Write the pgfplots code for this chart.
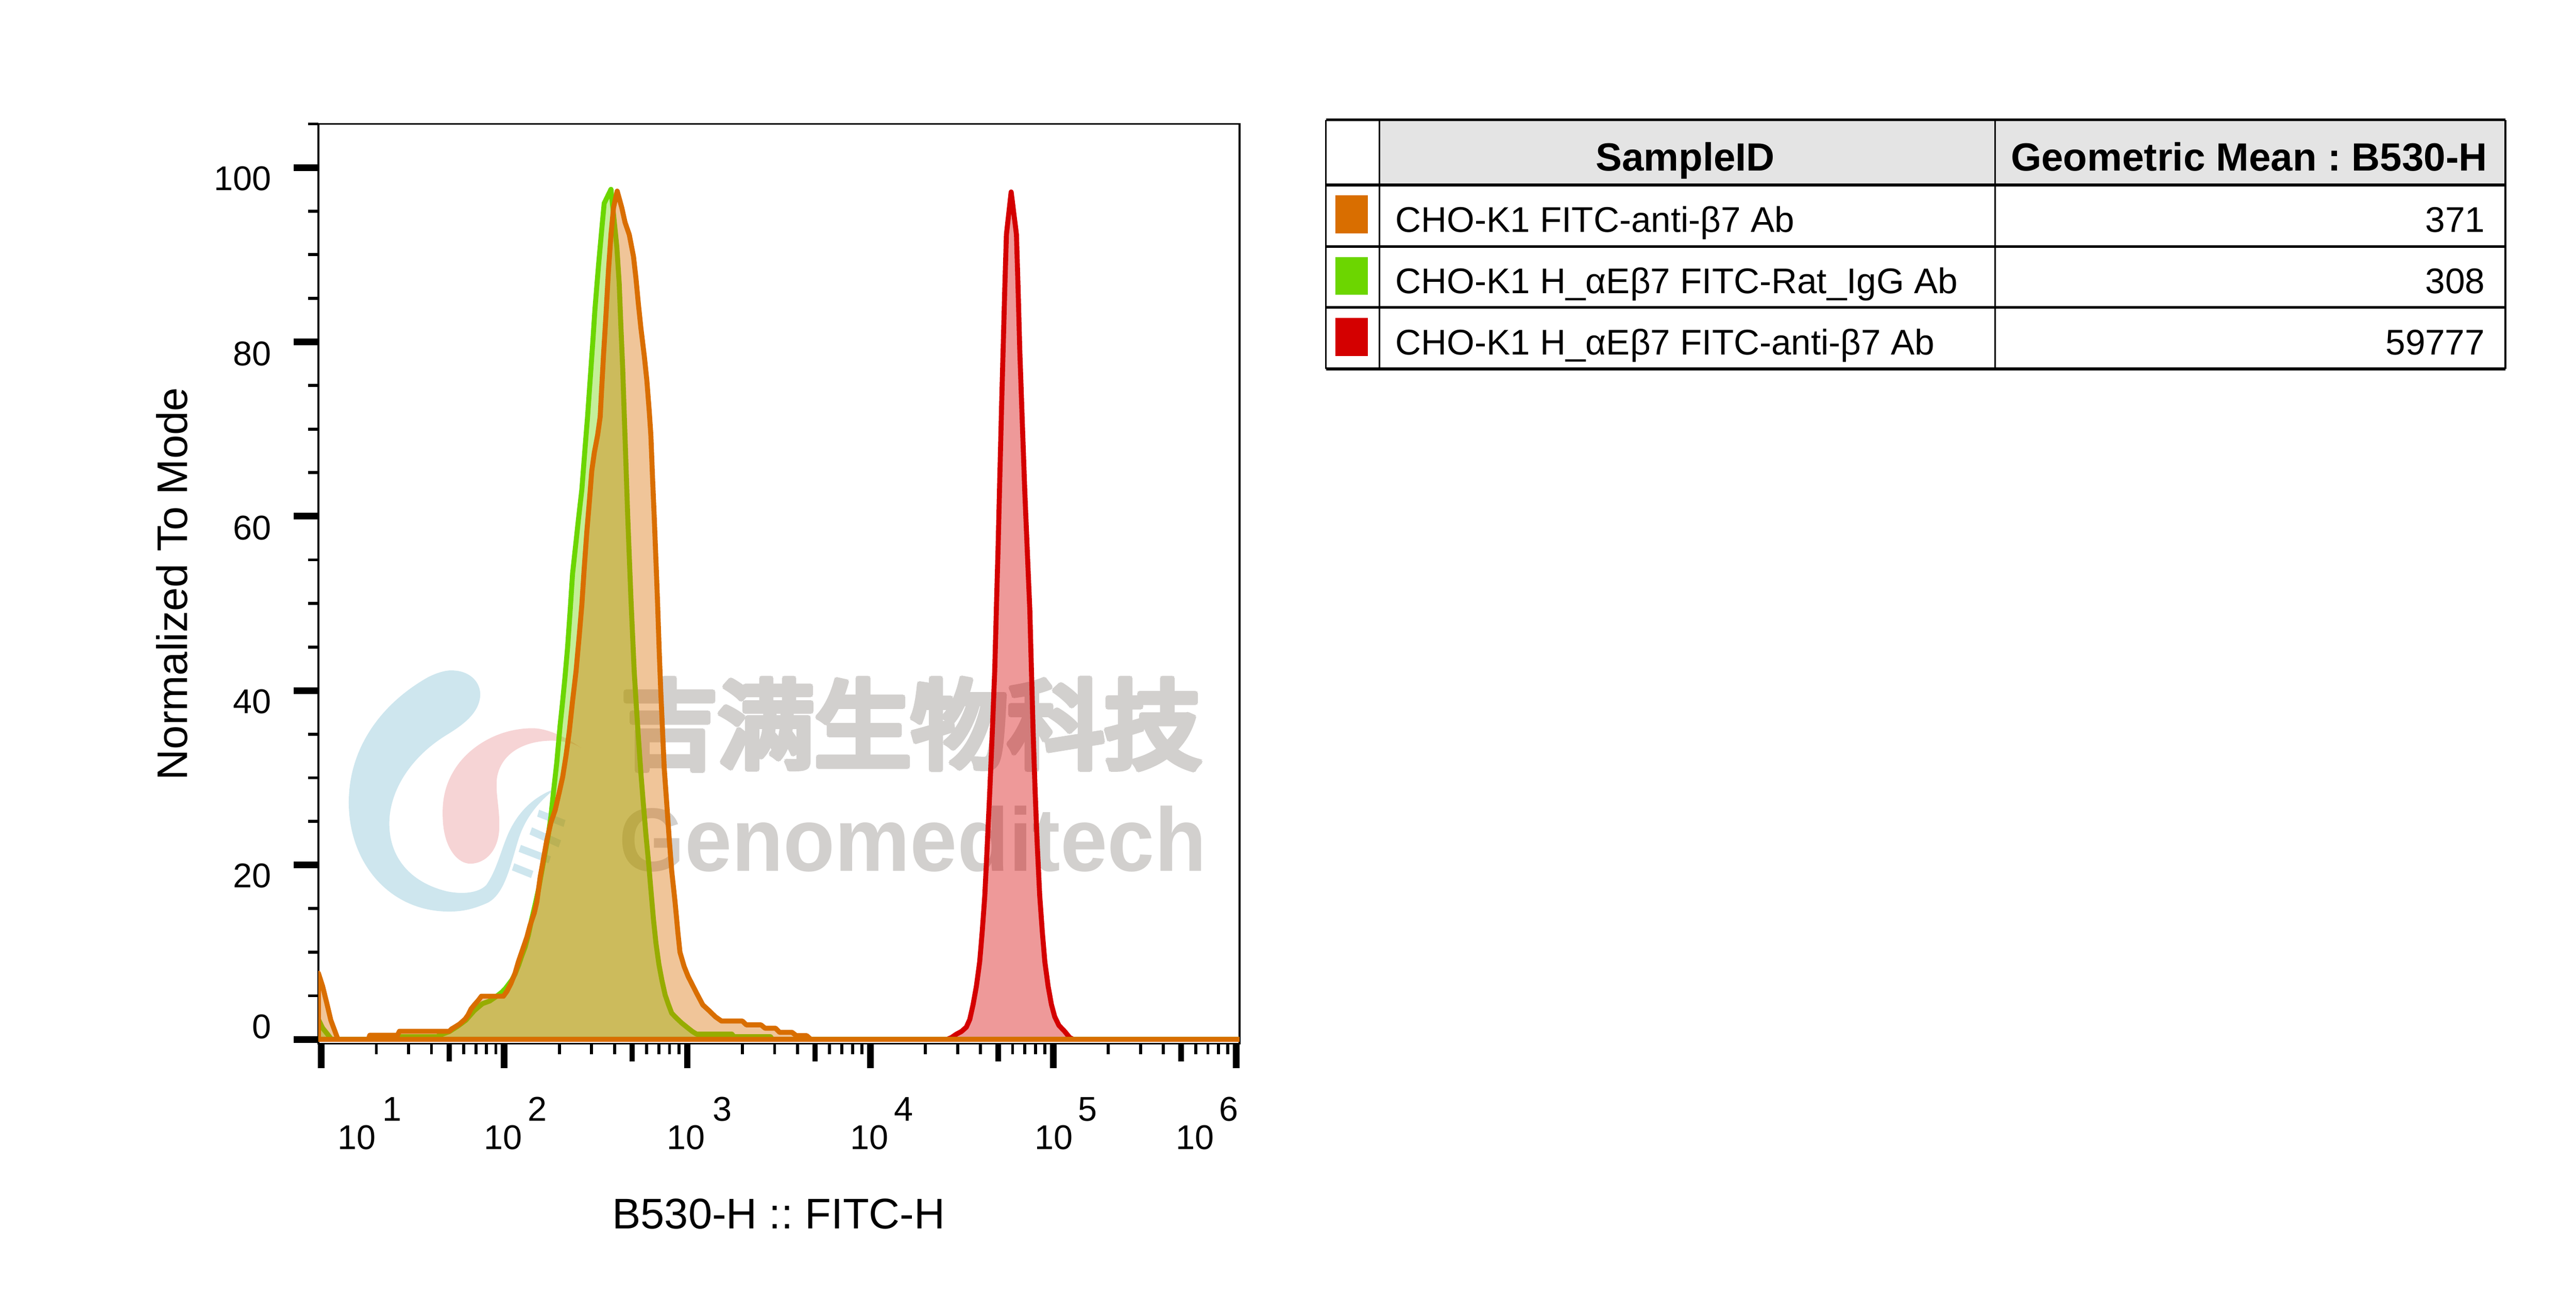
\documentclass[border=0pt]{standalone}
\usepackage{fontspec}
\setmainfont{Liberation Sans}
\newfontfamily\cjk{Noto Sans CJK SC}[FakeBold=3.5]
\usepackage{graphicx}
\usepackage{pgfplots}
\pgfplotsset{compat=1.18}
\definecolor{cOrange}{RGB}{217,110,0}
\definecolor{cGreen}{RGB}{108,214,0}
\definecolor{cRed}{RGB}{212,0,0}
\definecolor{wm}{RGB}{210,208,206}
\definecolor{logoBlue}{RGB}{206,230,238}
\definecolor{logoPink}{RGB}{246,212,213}
\definecolor{hdr}{RGB}{228,228,228}
\frenchspacing
\begin{document}
\begin{tikzpicture}
\useasboundingbox (0,0) rectangle (773.1pt,389.7pt);
% ---------- watermark (under the histograms) ----------
\begin{scope}[x=0.15pt,y=-0.15pt,shift={(0,-2598)}]
 \begin{scope}[shift={(650,1280)},scale=0.3827]
  \fill[logoBlue] (650,160)
   .. controls (760,155) and (818,225) .. (812,295)
   .. controls (805,380) and (730,440) .. (640,495)
   .. controls (450,610) and (335,790) .. (337,965)
   .. controls (340,1160) and (470,1275) .. (640,1315)
   .. controls (740,1335) and (815,1315) .. (845,1280)
   .. controls (900,1200) and (920,1100) .. (960,1010)
   .. controls (1010,900) and (1090,820) .. (1205,778)
   .. controls (1100,860) and (1040,950) .. (1010,1050)
   .. controls (970,1180) and (940,1330) .. (850,1375)
   .. controls (760,1415) and (700,1422) .. (630,1420)
   .. controls (330,1410) and (125,1160) .. (125,850)
   .. controls (125,560) and (300,330) .. (540,195)
   .. controls (580,175) and (620,162) .. (650,160) -- cycle;
  \fill[logoPink] (1340,565)
   .. controls (1250,500) and (1150,460) .. (1080,462)
   .. controls (900,465) and (760,560) .. (690,660)
   .. controls (620,760) and (610,860) .. (618,960)
   .. controls (630,1100) and (700,1170) .. (760,1170)
   .. controls (840,1170) and (910,1100) .. (912,980)
   .. controls (915,880) and (890,800) .. (900,720)
   .. controls (920,600) and (1030,530) .. (1180,527)
   .. controls (1260,527) and (1310,545) .. (1340,565) -- cycle;
  \fill[logoBlue] (1120,888) -- (1258,942) -- (1248,978) -- (1110,924) -- cycle;
  \fill[logoBlue] (1083,980) -- (1235,1048) -- (1222,1085) -- (1070,1017) -- cycle;
  \fill[logoBlue] (1025,1072) -- (1182,1132) -- (1170,1168) -- (1013,1108) -- cycle;
  \fill[logoBlue] (990,1168) -- (1090,1208) -- (1078,1245) -- (978,1205) -- cycle;
 \end{scope}
 \foreach \dx/\dy in {0/0,-4/0,4/0,0/-4,0/4,-3/-3,3/-3,-3/3,3/3}{
  \node[text=wm, inner sep=0, font=\cjk\fontsize{29}{30}\selectfont] at (1823+\dx,1449+\dy) {吉满生物科技};
 }
 \node[text=wm, inner sep=0, font=\bfseries\fontsize{27}{28}\selectfont] at (1826,1678) {\scalebox{0.94}[1]{Genomeditech}};
\end{scope}
% ---------- histogram ----------
\begin{axis}[
  at={(95.55pt,76.5pt)}, anchor=south west, scale only axis,
  width=276.45pt, height=276pt,
  xmin=0.984, xmax=6.018, ymin=-0.5, ymax=105,
  xtick={1,2,3,4,5,6},
  minor xtick={1.301,1.477,1.602,1.778,1.845,1.903,1.954,
               2.301,2.477,2.602,2.778,2.845,2.903,2.954,
               3.301,3.477,3.602,3.778,3.845,3.903,3.954,
               4.301,4.477,4.602,4.778,4.845,4.903,4.954,
               5.301,5.477,5.602,5.778,5.845,5.903,5.954},
  extra x ticks={1.699,2.699,3.699,4.699,5.699},
  extra x tick labels={},
  extra x tick style={major tick length=5.25pt, major tick style={line width=1.6pt}},
  ytick={0,20,40,60,80,100},
  minor ytick={5,10,15,25,30,35,45,50,55,65,70,75,85,90,95,105},
  xticklabels={}, yticklabels={},
  tick align=outside, tick pos=left,
  major tick length=7.4pt, minor tick length=3.1pt,
  tick style={black},
  major tick style={line width=2pt},
  minor tick style={line width=0.9pt},
  axis line style={line width=0.5pt},
]
\addplot[draw=cRed, line width=1.5pt, line join=round, fill=cRed, fill opacity=0.4] coordinates {
(0.984,0) (4.42,0) (4.443,0.2) (4.471,0.6) (4.498,0.9) (4.525,1.4) (4.544,2.3) (4.562,4.0)
(4.580,6.1) (4.598,8.9) (4.612,12.4) (4.626,16.5) (4.639,22.1) (4.653,28.4) (4.667,35.3)
(4.680,42.2) (4.689,49.2) (4.699,56.8) (4.708,64.5) (4.717,72.1) (4.726,79.1) (4.735,86.0)
(4.744,92.3) (4.770,97.2) (4.799,92.3) (4.808,86.0) (4.817,79.1) (4.831,70.7) (4.844,63.1)
(4.858,56.1) (4.872,49.2) (4.881,42.2) (4.890,35.3) (4.901,28.4) (4.913,22.1) (4.926,16.5)
(4.940,12.4) (4.954,8.9) (4.972,6.1) (4.990,4.0) (5.008,2.6) (5.031,1.6) (5.063,0.9)
(5.090,0.2) (5.11,0) (6.018,0)
} \closedcycle;
\addplot[draw=cGreen, line width=1.5pt, line join=round, fill=cGreen, fill opacity=0.4] coordinates {
(0.984,0) (0.984,2.3) (1.007,1.3) (1.030,0.7) (1.052,0.1) (1.06,0) (1.257,0) (1.336,0.1)
(1.35,0.3) (1.631,0.3) (1.65,0.5) (1.70,0.9) (1.745,1.5) (1.79,2.2) (1.836,3.3) (1.881,4.1)
(1.92,4.4) (1.955,4.9) (1.986,5.4) (2.005,5.8) (2.023,6.3) (2.041,6.8) (2.059,7.5) (2.078,8.5)
(2.096,9.6) (2.114,10.6) (2.132,12.0) (2.150,13.8) (2.169,15.5) (2.187,17.2) (2.205,19.3)
(2.223,21.4) (2.241,23.5) (2.255,25.6) (2.269,28.4) (2.287,31.8) (2.305,36.0) (2.319,38.8)
(2.332,41.6) (2.346,45.0) (2.360,49.2) (2.373,53.4) (2.387,56.1) (2.405,59.6) (2.424,63.1)
(2.442,68.0) (2.455,71.4) (2.469,75.6) (2.483,79.8) (2.496,83.9) (2.515,88.8) (2.533,93.0)
(2.546,95.9) (2.583,97.5) (2.598,94.4) (2.615,90.9) (2.628,86.7) (2.637,81.9) (2.647,77.0)
(2.656,71.4) (2.665,65.9) (2.674,60.3) (2.683,55.4) (2.692,50.6) (2.701,46.4) (2.710,42.2)
(2.722,38.1) (2.733,34.6) (2.747,30.4) (2.760,27.0) (2.774,23.5) (2.788,20.4) (2.801,17.2)
(2.815,13.8) (2.829,11.0) (2.845,8.6) (2.861,6.8) (2.879,5.1) (2.897,4.0) (2.915,3.0)
(2.943,2.4) (2.971,1.85) (3.005,1.28) (3.028,0.9) (3.051,0.6) (3.244,0.6) (3.255,0.3)
(3.455,0.3) (3.465,0) (6.018,0)
} \closedcycle;
\addplot[draw=cOrange, line width=1.5pt, line join=round, fill=cOrange, fill opacity=0.4] coordinates {
(0.984,0) (0.984,7.6) (1.007,6.1) (1.030,4.15) (1.052,2.2) (1.075,0.9) (1.091,0) (1.257,0)
(1.265,0.47) (1.416,0.47) (1.427,0.93) (1.700,0.93) (1.711,1.18) (1.734,1.47) (1.756,1.76)
(1.786,2.33) (1.802,2.8) (1.818,3.48) (1.836,3.95) (1.859,4.5) (1.875,4.95) (1.995,4.95)
(2.014,5.5) (2.036,6.4) (2.059,7.6) (2.077,8.9) (2.100,10.3) (2.123,11.7) (2.141,13.1)
(2.164,14.5) (2.178,15.8) (2.196,18.6) (2.214,20.7) (2.232,22.8) (2.255,24.9) (2.278,26.3)
(2.301,28.4) (2.319,30.1) (2.337,32.5) (2.355,35.3) (2.373,38.8) (2.392,42.2) (2.410,46.4)
(2.424,49.9) (2.437,54.1) (2.451,58.2) (2.465,61.7) (2.478,65.2) (2.492,67.3) (2.510,69.3)
(2.524,71.4) (2.531,74.2) (2.542,78.4) (2.556,83.2) (2.569,88.1) (2.583,92.3) (2.597,95.4)
(2.617,97.3) (2.642,95.4) (2.660,93.7) (2.683,92.3) (2.706,89.8) (2.719,87.4) (2.733,84.3)
(2.747,81.5) (2.765,78.4) (2.779,75.6) (2.792,72.1) (2.801,69.3) (2.810,64.5) (2.820,59.6)
(2.829,54.8) (2.838,49.9) (2.847,44.3) (2.856,39.5) (2.865,35.3) (2.874,31.1) (2.888,27.0)
(2.902,22.8) (2.915,19.3) (2.933,15.8) (2.949,12.2) (2.960,10.0) (2.983,8.35) (3.005,7.2)
(3.028,6.25) (3.051,5.3) (3.085,3.95) (3.119,3.3) (3.153,2.6) (3.187,2.1) (3.301,2.1)
(3.323,1.66) (3.403,1.66) (3.425,1.28) (3.482,1.28) (3.505,0.8) (3.573,0.8) (3.596,0.42)
(3.653,0.42) (3.675,0) (6.018,0)
} \closedcycle;
\end{axis}
% ---------- labels and table (original pixel coordinates) ----------
\begin{scope}[x=0.15pt,y=-0.15pt,shift={(0,-2598)}]
 % y tick labels
 \begin{scope}[every node/.style={anchor=east, inner sep=0, font=\fontsize{10.3}{12}\selectfont}]
  \node at (544,357) {100};
  \node at (544,708) {80};
  \node at (544,1056) {60};
  \node at (544,1404) {40};
  \node at (544,1752) {20};
  \node at (544,2054) {0};
 \end{scope}
 % x tick labels
 \begin{scope}[every node/.style={inner sep=0, font=\fontsize{10.3}{12}\selectfont}]
  \node[anchor=base] at (714,2299) {10};  \node[anchor=base west] at (764,2243) {1};
  \node[anchor=base] at (1007,2299) {10}; \node[anchor=base west] at (1055,2243) {2};
  \node[anchor=base] at (1373,2299) {10}; \node[anchor=base west] at (1425,2243) {3};
  \node[anchor=base] at (1740,2299) {10}; \node[anchor=base west] at (1788,2243) {4};
  \node[anchor=base] at (2109,2299) {10}; \node[anchor=base west] at (2156,2243) {5};
  \node[anchor=base] at (2391,2299) {10}; \node[anchor=base west] at (2438,2243) {6};
 \end{scope}
 % axis labels
 \node[anchor=base, inner sep=0, font=\fontsize{12.85}{14}\selectfont] at (1558,2458) {B530-H :: FITC-H};
 \node[anchor=base, rotate=90, inner sep=0, font=\fontsize{12.85}{14}\selectfont] at (375,1168) {Normalized To Mode};
 % table
 \fill[hdr] (2760,240) rectangle (5013,370);
 \draw[line width=0.8pt] (2653,240) -- (5013,240);
 \draw[line width=0.8pt] (2653,370) -- (5013,370);
 \draw[line width=0.8pt] (2653,493) -- (5013,493);
 \draw[line width=0.8pt] (2653,615) -- (5013,615);
 \draw[line width=0.8pt] (2653,738) -- (5013,738);
 \draw[line width=0.5pt] (2653,240) -- (2653,738);
 \draw[line width=0.5pt] (2760,240) -- (2760,738);
 \draw[line width=0.5pt] (3992,240) -- (3992,738);
 \draw[line width=0.5pt] (5013,240) -- (5013,738);
 \fill[cOrange] (2672,391) rectangle (2737,467);
 \fill[cGreen] (2672,514) rectangle (2737,590);
 \fill[cRed] (2672,636) rectangle (2737,712);
 \node[anchor=base, inner sep=0, font=\bfseries\fontsize{11.8}{13}\selectfont] at (3372,342) {SampleID};
 \node[anchor=base, inner sep=0, font=\bfseries\fontsize{11.8}{13}\selectfont] at (4500,342) {Geometric Mean : B530-H};
 \begin{scope}[every node/.style={inner sep=0, font=\fontsize{10.7}{12}\selectfont}]
  \node[anchor=base west] at (2791,464) {CHO-K1 FITC-anti-β7 Ab};
  \node[anchor=base west] at (2791,587) {CHO-K1 H\_αEβ7 FITC-Rat\_IgG Ab};
  \node[anchor=base west] at (2791,710) {CHO-K1 H\_αEβ7 FITC-anti-β7 Ab};
  \node[anchor=base east] at (4973,464) {371};
  \node[anchor=base east] at (4973,587) {308};
  \node[anchor=base east] at (4973,710) {59777};
 \end{scope}
\end{scope}
\end{tikzpicture}
\end{document}
